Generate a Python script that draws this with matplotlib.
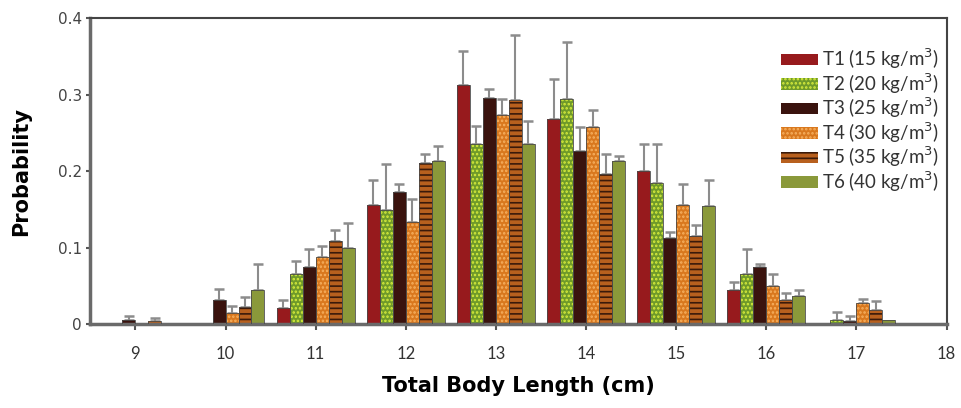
import numpy as np
import matplotlib.pyplot as plt

# Total body length classes (cm)
lengths = [9, 10, 11, 12, 13, 14, 15, 16, 17]
labels = ['T1 (15 kg/m$^3$)', 'T2 (20 kg/m$^3$)', 'T3 (25 kg/m$^3$)',
          'T4 (30 kg/m$^3$)', 'T5 (35 kg/m$^3$)', 'T6 (40 kg/m$^3$)']

# mean probability per treatment
t1 = [0, 0, 0.021, 0.156, 0.313, 0.268, 0.200, 0.044, 0]
t2 = [0, 0, 0.066, 0.149, 0.235, 0.294, 0.185, 0.065, 0.005]
t3 = [0.005, 0.032, 0.075, 0.173, 0.296, 0.227, 0.112, 0.074, 0.004]
t4 = [0, 0.014, 0.088, 0.134, 0.273, 0.258, 0.156, 0.050, 0.027]
t5 = [0.004, 0.022, 0.109, 0.211, 0.293, 0.196, 0.115, 0.032, 0.018]
t6 = [0, 0.045, 0.100, 0.213, 0.235, 0.213, 0.155, 0.036, 0.005]

# upper error (SD)
e1 = [0, 0, 0.011, 0.032, 0.044, 0.052, 0.035, 0.011, 0]
e2 = [0, 0, 0.016, 0.060, 0.024, 0.075, 0.051, 0.033, 0.010]
e3 = [0.006, 0.014, 0.023, 0.010, 0.012, 0.031, 0.009, 0.004, 0.007]
e4 = [0, 0.010, 0.014, 0.030, 0.021, 0.022, 0.027, 0.015, 0.006]
e5 = [0.004, 0.013, 0.014, 0.012, 0.085, 0.026, 0.014, 0.009, 0.012]
e6 = [0, 0.034, 0.032, 0.020, 0.031, 0.007, 0.033, 0.008, 0]

means = [t1, t2, t3, t4, t5, t6]
errs = [e1, e2, e3, e4, e5, e6]

# face colour, hatch colour, hatch
styles = [
    ('#971a1d', '#971a1d', None),
    ('#6f9a2a', '#d8ec3c', '....'),
    ('#3a130e', '#55201a', None),
    ('#d9781e', '#f6b060', '....'),
    ('#b8601e', '#3b1a0a', '---'),
    ('#8a993a', '#8a993a', None),
]

plt.rcParams['hatch.linewidth'] = 1.2

fig = plt.figure(figsize=(9.61, 4.08), dpi=100)
ax = fig.add_axes([0.094, 0.206, 0.891, 0.749])

x = np.array(lengths, dtype=float)
w = 0.144
handles = []
for i in range(6):
    fc, hc, hatch = styles[i]
    pos = x + (i - 2.5) * w
    vals = np.array(means[i])
    er = np.array(errs[i])
    b = ax.bar(pos, vals, w, color=fc, edgecolor=hc, hatch=hatch,
               linewidth=0, zorder=2)
    ax.bar(pos, vals, w, fill=False, edgecolor='#4a4a4a', linewidth=0.6, zorder=3)
    m = (vals > 0) & (er > 0)
    ax.errorbar(pos[m], vals[m], yerr=[np.zeros(m.sum()), er[m]], fmt='none',
                ecolor='#8c8c8c', elinewidth=1.5, capsize=3.5, capthick=1.8,
                zorder=1)
    handles.append(b)

ax.set_xlim(8.5, 18.0)
ax.set_ylim(0, 0.4)
ax.set_xticks(range(9, 19))
ax.set_xticklabels([str(v) for v in range(9, 19)], fontfamily='Lato',
                   fontsize=12, color='#333333')
ax.set_yticks([0, 0.1, 0.2, 0.3, 0.4])
ax.set_yticklabels(['0', '0.1', '0.2', '0.3', '0.4'], fontsize=11,
                   color='#444444')
ax.tick_params(axis='x', direction='out', length=4, width=1.5, color='#555555', pad=12)
ax.tick_params(axis='y', direction='out', length=3, width=1.5, color='#555555', pad=3)

for s in ['left', 'bottom']:
    ax.spines[s].set_color('#6a6a6a')
    ax.spines[s].set_linewidth(2.5)
for s in ['top', 'right']:
    ax.spines[s].set_color('#444444')
    ax.spines[s].set_linewidth(1.5)

ax.set_xlabel('Total Body Length (cm)', fontsize=15, fontweight='bold', labelpad=10)
ax.set_ylabel('Probability', fontsize=15, fontweight='bold', labelpad=19)

leg = ax.legend(handles, labels, loc='upper right', frameon=False,
                bbox_to_anchor=(1.006, 0.95),
                prop={'family': 'Lato', 'size': 13.5}, handlelength=2.0,
                handleheight=0.55, labelspacing=0.0, handletextpad=0.2,
                borderaxespad=0.3)
for t in leg.get_texts():
    t.set_color('#333333')

fig.savefig('out.png', dpi=100)
